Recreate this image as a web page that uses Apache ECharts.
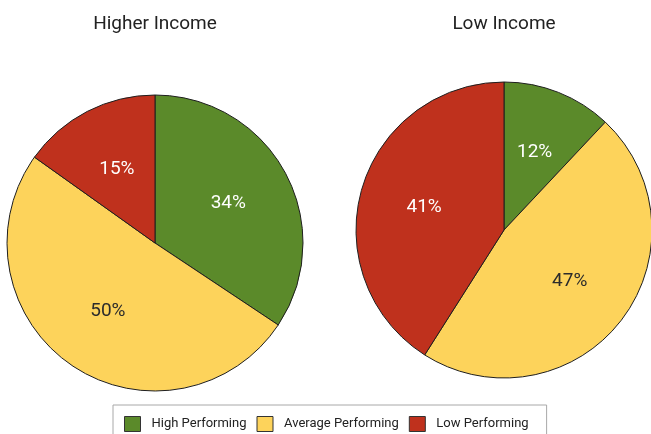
<!DOCTYPE html>
<html>
<head>
<meta charset="utf-8">
<script src="https://cdn.jsdelivr.net/npm/echarts@6/dist/echarts.min.js"></script>
<style>
  html, body { margin: 0; padding: 0; background: #fff; }
  #chart { width: 651px; height: 434px; }
</style>
</head>
<body>
<div id="chart"></div>
<script>
// Data
const categories = ['High Performing', 'Average Performing', 'Low Performing'];
const higherIncome = [34, 50, 15];
const lowIncome = [12, 47, 41];
const titles = ['Higher Income', 'Low Income'];

const COLORS = ['#5b8a2a', '#fdd35b', '#bf311d'];
const LABEL_COLORS = ['#ffffff', '#2b2b2b', '#ffffff'];
const FONT = 'Roboto, "Liberation Sans", sans-serif';
const CENTERS = [[155, 243], [504, 230]];

function buildData(values) {
    return values.map((v, i) => ({
        name: categories[i],
        value: v,
        itemStyle: { color: COLORS[i] },
        label: { color: LABEL_COLORS[i] }
    }));
}

function pieSeries(name, values, center) {
    return {
        name: name,
        type: 'pie',
        center: center,
        radius: 148,
        startAngle: 90,
        clockwise: true,
        silent: true,
        animation: false,
        itemStyle: { borderColor: '#1e1e1e', borderWidth: 1 },
        label: {
            show: true,
            position: 'inside',
            formatter: '{c}%',
            fontFamily: FONT,
            fontSize: 19
        },
        labelLine: { show: false },
        // push the inside labels a little further out, like the original
        labelLayout: function (params) {
            const c = CENTERS[params.seriesIndex];
            const r = params.labelRect;
            const lx = r.x + r.width / 2;
            const ly = r.y + r.height / 2;
            return { dx: (lx - c[0]) * 0.08, dy: (ly - c[1]) * 0.08 };
        },
        data: buildData(values)
    };
}

const chart = echarts.init(document.getElementById('chart'));

chart.setOption({
    animation: false,
    title: [
        {
            text: titles[0], left: 150, top: 10, textAlign: 'center',
            textStyle: { fontFamily: FONT, fontSize: 19, fontWeight: 'normal', color: '#222' }
        },
        {
            text: titles[1], left: 499, top: 10, textAlign: 'center',
            textStyle: { fontFamily: FONT, fontSize: 19, fontWeight: 'normal', color: '#222' }
        }
    ],
    legend: {
        data: categories,
        left: 113,
        top: 405,
        padding: [11, 18, 11, 11],
        borderColor: '#a8a8a8',
        borderWidth: 1,
        itemWidth: 16,
        itemHeight: 15,
        itemGap: 10,
        icon: 'rect',
        itemStyle: { borderColor: '#333', borderWidth: 1 },
        textStyle: { fontFamily: FONT, fontSize: 13, color: '#222', padding: [0, 0, 0, 6] }
    },
    series: [
        pieSeries(titles[0], higherIncome, CENTERS[0]),
        pieSeries(titles[1], lowIncome, CENTERS[1])
    ]
});
</script>
</body>
</html>
